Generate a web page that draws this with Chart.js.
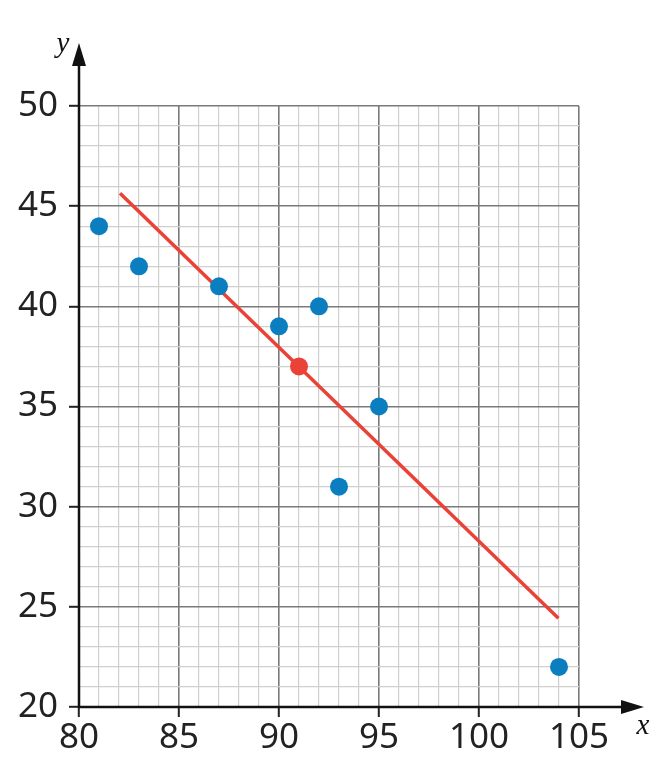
<!DOCTYPE html>
<html>
<head>
<meta charset="utf-8">
<script src="https://cdn.jsdelivr.net/npm/chart.js@4"></script>
<style>
  body { margin: 0; background: #fff; }
  #wrap { width: 655px; height: 758px; }
</style>
</head>
<body>
<div id="wrap"><canvas id="chart" width="655" height="758"></canvas></div>
<script>
const xValues = [81, 83, 87, 90, 92, 93, 95, 104];
const yValues = [44, 42, 41, 39, 40, 31, 35, 22];
const meanPoint = [91, 37];
const fitX = [82.05, 103.97];
const fitY = [45.65, 24.43];

const blue = '#0b7ec0';
const red = '#ea4236';

// arrows and italic axis names
let axisArrows = {
    id: 'axisArrows',
    afterDraw: function (chart) {
        let ctx = chart.ctx;
        let xs = chart.scales.x, ys = chart.scales.y;
        let left = xs.left, bottom = ys.bottom;
        ctx.save();
        ctx.strokeStyle = '#111';
        ctx.fillStyle = '#111';
        ctx.lineWidth = 2.5;
        ctx.beginPath();
        ctx.moveTo(left, bottom + 1);
        ctx.lineTo(left, 60);
        ctx.moveTo(left - 1, bottom);
        ctx.lineTo(628, bottom);
        ctx.stroke();
        ctx.beginPath();
        ctx.moveTo(left, 43);
        ctx.lineTo(left - 7, 66);
        ctx.lineTo(left + 7, 66);
        ctx.closePath();
        ctx.fill();
        ctx.beginPath();
        ctx.moveTo(644, bottom);
        ctx.lineTo(621, bottom - 7);
        ctx.lineTo(621, bottom + 7);
        ctx.closePath();
        ctx.fill();
        ctx.font = 'italic 29px "Liberation Serif"';
        ctx.textAlign = 'center';
        ctx.textBaseline = 'alphabetic';
        ctx.fillText('y', 63, 52);
        ctx.fillText('x', 643, 734);
        ctx.restore();
    }
};

let isMajor = function (ctx) {
    return ctx.tick && ctx.tick.value % 5 === 0;
};

new Chart(document.getElementById('chart').getContext('2d'), {
    type: 'scatter',
    data: {
        datasets: [{
            type: 'line',
            data: fitX.map((x, i) => ({x: x, y: fitY[i]})),
            borderColor: red,
            borderWidth: 3.5,
            pointRadius: 0,
            order: 2
        }, {
            data: xValues.map((x, i) => ({x: x, y: yValues[i]})),
            backgroundColor: blue,
            borderWidth: 0,
            pointRadius: 9,
            order: 1
        }, {
            data: [{x: meanPoint[0], y: meanPoint[1]}],
            backgroundColor: red,
            borderWidth: 0,
            pointRadius: 9,
            order: 0
        }]
    },
    options: {
        responsive: false,
        animation: false,
        layout: { padding: { top: 106, right: 76, left: 10, bottom: 4 } },
        plugins: { legend: { display: false }, tooltip: { enabled: false } },
        scales: {
            x: {
                type: 'linear',
                min: 80,
                max: 105,
                afterFit: function (s) { s.height = 47; },
                border: { display: false },
                grid: {
                    color: ctx => isMajor(ctx) ? '#7a7a7a' : '#cfcfcf',
                    lineWidth: ctx => isMajor(ctx) ? 1.6 : 1.2,
                    tickColor: ctx => isMajor(ctx) ? '#222' : 'rgba(0,0,0,0)',
                    tickLength: 10,
                    tickWidth: 2
                },
                ticks: {
                    stepSize: 1,
                    autoSkip: false,
                    maxRotation: 0,
                    padding: 0,
                    color: '#222',
                    font: { family: 'Noto Sans', size: 35 },
                    callback: v => v % 5 === 0 ? v : ''
                }
            },
            y: {
                type: 'linear',
                min: 20,
                max: 50,
                afterFit: function (s) { s.width = 69; },
                border: { display: false },
                grid: {
                    color: ctx => isMajor(ctx) ? '#7a7a7a' : '#cfcfcf',
                    lineWidth: ctx => isMajor(ctx) ? 1.6 : 1.2,
                    tickColor: ctx => isMajor(ctx) ? '#222' : 'rgba(0,0,0,0)',
                    tickLength: 10,
                    tickWidth: 2
                },
                ticks: {
                    stepSize: 1,
                    autoSkip: false,
                    padding: 11,
                    color: '#222',
                    font: { family: 'Noto Sans', size: 35 },
                    callback: v => v % 5 === 0 ? v : ''
                }
            }
        }
    },
    plugins: [axisArrows]
});
</script>
</body>
</html>
